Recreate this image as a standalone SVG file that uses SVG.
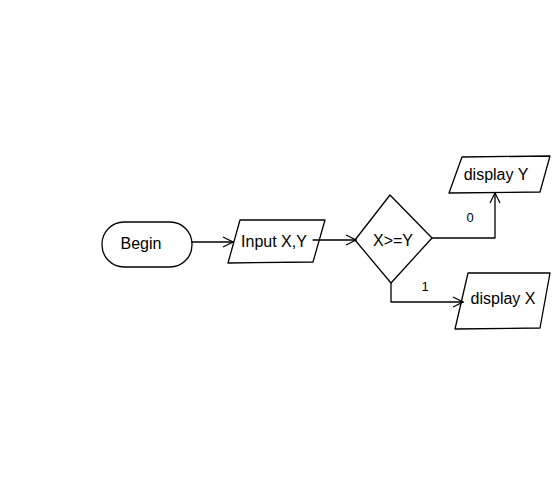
<svg xmlns="http://www.w3.org/2000/svg" width="554" height="480" viewBox="0 0 554 480">
<style>
.s{fill:none;stroke:#000;stroke-width:1.3;stroke-linejoin:round;stroke-linecap:round}
.t{font-family:"Liberation Sans",Arial,sans-serif;font-size:16px;fill:#000;text-anchor:middle;dominant-baseline:central}
.l{font-family:"Liberation Sans",Arial,sans-serif;font-size:13px;fill:#000;text-anchor:middle;dominant-baseline:central}
</style>
<defs>
<marker id="a" viewBox="0 0 12 12" refX="11" refY="6" markerWidth="12" markerHeight="12" markerUnits="userSpaceOnUse" orient="auto">
<path d="M1,1 L11,6 L1,11" fill="none" stroke="#000" stroke-width="1.2"/>
</marker>
</defs>
<rect width="554" height="480" fill="#fff"/>
<g id="connectors">
<path class="s" d="M192,242 L233,242" marker-end="url(#a)"/>
<path class="s" d="M313,240 L356,240" marker-end="url(#a)"/>
<path class="s" d="M432,238 L495,238 L495,193" marker-end="url(#a)"/>
<path class="s" d="M391,283 L391,302 L463,302" marker-end="url(#a)"/>
<text class="l" x="470" y="217">0</text>
<text class="l" x="425" y="286">1</text>
</g>
<g id="begin">
<rect class="s" x="102" y="222" width="90" height="45" rx="22" ry="22"/>
<text class="t" x="141" y="243">Begin</text>
</g>
<g id="input">
<path class="s" d="M240,220 L325,220 L313,262 L228,263 Z"/>
<text class="t" x="274" y="241">Input X,Y</text>
</g>
<g id="decision">
<path class="s" d="M390,195 L432,238 L391,283 L355,240 Z"/>
<text class="t" x="393" y="240">X&gt;=Y</text>
</g>
<g id="displayY">
<path class="s" d="M462,157 L550,156 L540,192 L449,193 Z"/>
<text class="t" x="496" y="174">display Y</text>
</g>
<g id="displayX">
<path class="s" d="M468,273 L550,273 L540,328 L455,329 Z"/>
<text class="t" x="503" y="298">display X</text>
</g>
</svg>
